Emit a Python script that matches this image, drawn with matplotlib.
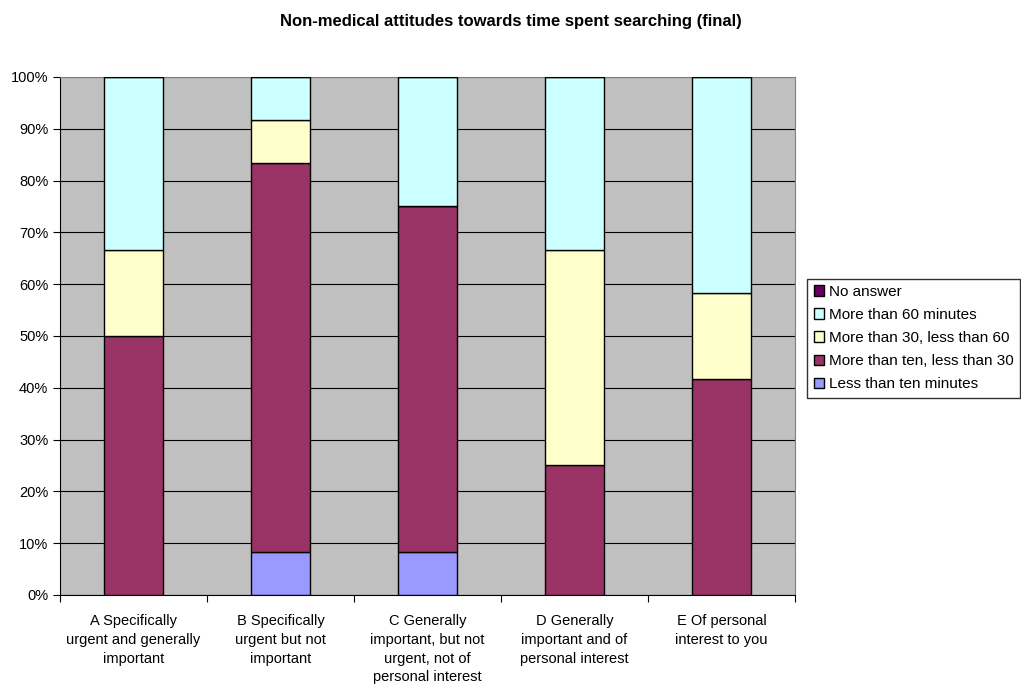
import matplotlib
matplotlib.use("Agg")
import matplotlib.pyplot as plt
import numpy as np

categories = [
    "A Specifically\nurgent and generally\nimportant",
    "B Specifically\nurgent but not\nimportant",
    "C Generally\nimportant, but not\nurgent, not of\npersonal interest",
    "D Generally\nimportant and of\npersonal interest",
    "E Of personal\ninterest to you",
]
less_than_ten = [0.0, 8.33, 8.33, 0.0, 0.0]
ten_to_30 = [50.0, 75.0, 66.67, 25.0, 41.67]
thirty_to_60 = [16.67, 8.33, 0.0, 41.67, 16.67]
more_than_60 = [33.33, 8.34, 25.0, 33.33, 41.66]
no_answer = [0.0, 0.0, 0.0, 0.0, 0.0]

series = [
    ("Less than ten minutes", less_than_ten, "#9999FF"),
    ("More than ten, less than 30", ten_to_30, "#993366"),
    ("More than 30, less than 60", thirty_to_60, "#FFFFCC"),
    ("More than 60 minutes", more_than_60, "#CCFFFF"),
    ("No answer", no_answer, "#660066"),
]

plt.rcParams['font.family'] = ['Liberation Sans', 'DejaVu Sans']

fig = plt.figure(figsize=(10.21, 6.85), dpi=100)
ax = fig.add_axes([0.0588, 0.1314, 0.7198, 0.7562])
ax.set_facecolor("#C0C0C0")

x = np.arange(len(categories))
bottom = np.zeros(len(categories))
handles = []
for name, vals, color in series:
    vals = np.array(vals)
    b = ax.bar(x, vals, 0.4, bottom=bottom, color=color, edgecolor="black",
               linewidth=1.0, label=name, zorder=3)
    handles.append(b)
    bottom += vals

ax.set_xlim(-0.5, len(categories) - 0.5)
ax.set_ylim(0, 100)
ax.set_yticks(np.arange(0, 101, 10))
ax.set_yticklabels([f"{v}%" for v in range(0, 101, 10)], fontsize=10.5)
ax.yaxis.grid(True, color="black", linewidth=0.8, zorder=0)
ax.set_axisbelow(True)

ax.set_xticks(np.arange(-0.5, len(categories), 1.0))
ax.set_xticklabels([])
ax.set_xticks(x, minor=True)
ax.set_xticklabels(categories, minor=True, fontsize=10.5, linespacing=1.42)
ax.tick_params(axis="x", which="minor", length=0, pad=14)
ax.tick_params(axis="x", which="major", length=5, direction="out", color="black")
ax.tick_params(axis="y", length=5, direction="out", color="black")

for s in ["top", "right"]:
    ax.spines[s].set_color("#808080")
for s in ["left", "bottom"]:
    ax.spines[s].set_color("black")

leg = ax.legend(handles=handles[::-1], loc="center left",
                bbox_to_anchor=(1.017, 0.496), fontsize=11, frameon=True,
                fancybox=False, edgecolor="black", handlelength=0.7,
                handleheight=0.7, handletextpad=0.3, borderpad=0.4,
                labelspacing=0.6, borderaxespad=0)
leg.get_frame().set_linewidth(1.0)

fig.text(0.5, 0.968, "Non-medical attitudes towards time spent searching (final)",
         ha="center", va="center", fontsize=12, fontweight="bold")

fig.savefig("out.png", dpi=100, facecolor="white")
